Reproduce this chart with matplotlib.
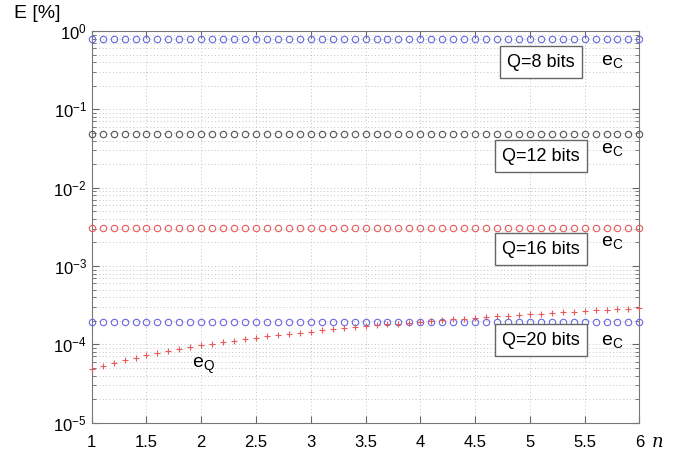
import numpy as np
import matplotlib.pyplot as plt

# n values (0.1 steps)
n = [1.0, 1.1, 1.2, 1.3, 1.4, 1.5, 1.6, 1.7, 1.8, 1.9,
     2.0, 2.1, 2.2, 2.3, 2.4, 2.5, 2.6, 2.7, 2.8, 2.9,
     3.0, 3.1, 3.2, 3.3, 3.4, 3.5, 3.6, 3.7, 3.8, 3.9,
     4.0, 4.1, 4.2, 4.3, 4.4, 4.5, 4.6, 4.7, 4.8, 4.9,
     5.0, 5.1, 5.2, 5.3, 5.4, 5.5, 5.6, 5.7, 5.8, 5.9, 6.0]

# e_C levels for each Q (constant in n)
q_labels = ['Q=8 bits', 'Q=12 bits', 'Q=16 bits', 'Q=20 bits']
ec_levels = [0.78, 0.0488, 0.00305, 0.000191]
ec_colors = ['#6868e0', '#555555', '#e85a5a', '#6868e0']

# e_Q (red pluses), in %
eq = [4.85e-5, 5.34e-5, 5.82e-5, 6.31e-5, 6.79e-5, 7.28e-5, 7.76e-5, 8.25e-5, 8.73e-5, 9.22e-5,
      9.70e-5, 1.019e-4, 1.067e-4, 1.116e-4, 1.164e-4, 1.213e-4, 1.261e-4, 1.310e-4, 1.358e-4, 1.407e-4,
      1.455e-4, 1.504e-4, 1.552e-4, 1.601e-4, 1.649e-4, 1.698e-4, 1.746e-4, 1.795e-4, 1.843e-4, 1.892e-4,
      1.940e-4, 1.989e-4, 2.037e-4, 2.086e-4, 2.134e-4, 2.183e-4, 2.231e-4, 2.280e-4, 2.328e-4, 2.377e-4,
      2.425e-4, 2.474e-4, 2.522e-4, 2.571e-4, 2.619e-4, 2.668e-4, 2.716e-4, 2.765e-4, 2.813e-4, 2.862e-4, 2.910e-4]

# label positions (data coords)
box_y = [0.40, 0.0253, 0.00164, 0.000113]
ec_y = [0.40, 0.030, 0.00196, 0.000107]

plt.rcParams['font.family'] = ['Liberation Sans', 'DejaVu Sans']

fig = plt.figure(figsize=(6.82, 4.53), dpi=100)
ax = fig.add_axes([0.1345, 0.0669, 0.803, 0.8647])

for lvl, col in zip(ec_levels, ec_colors):
    ax.plot(n, [lvl] * len(n), 'o', mfc='none', mec=col, ms=4.6, mew=0.8, ls='none',
            clip_on=False, zorder=3)
ax.plot(n, eq, '+', color='#e85a5a', ms=5, mew=0.8, ls='none', clip_on=False, zorder=3)

ax.set_yscale('log')
ax.set_xlim(1, 6)
ax.set_ylim(1e-5, 1)
ax.set_xticks([1, 1.5, 2, 2.5, 3, 3.5, 4, 4.5, 5, 5.5, 6])
ax.set_xticklabels(['1', '1.5', '2', '2.5', '3', '3.5', '4', '4.5', '5', '5.5', '6'])
ax.grid(True, which='major', ls=(0, (1, 2.5)), color='#c4c4c4', lw=0.7)
ax.grid(True, which='minor', axis='y', ls=(0, (1, 2.5)), color='#c4c4c4', lw=0.7)
ax.tick_params(which='both', direction='in', top=True, right=True, colors='#666666',
               labelcolor='black', labelsize=12)
ax.tick_params(which='major', length=5)
ax.tick_params(which='minor', length=3)
ax.tick_params(axis='x', pad=9)
for s in ax.spines.values():
    s.set_color('#777777')

for lab, yb, ye in zip(q_labels, box_y, ec_y):
    ax.text(5.10, yb, lab, ha='center', va='center', fontsize=13,
            bbox=dict(boxstyle='square,pad=0.4', fc='white', ec='#666666', lw=1))
    ax.text(5.75, ye, r'e$_\mathregular{C}$', ha='center', va='center', fontsize=14)

ax.text(2.02, 5.3e-5, r'e$_\mathregular{Q}$', ha='center', va='center', fontsize=14)

fig.text(0.02, 0.970, 'E [%]', fontsize=14, ha='left', va='center')
fig.text(0.955, 0.025, 'n', fontsize=13, style='italic', family='DejaVu Serif',
         ha='left', va='center')

fig.savefig('out.png', dpi=100)
